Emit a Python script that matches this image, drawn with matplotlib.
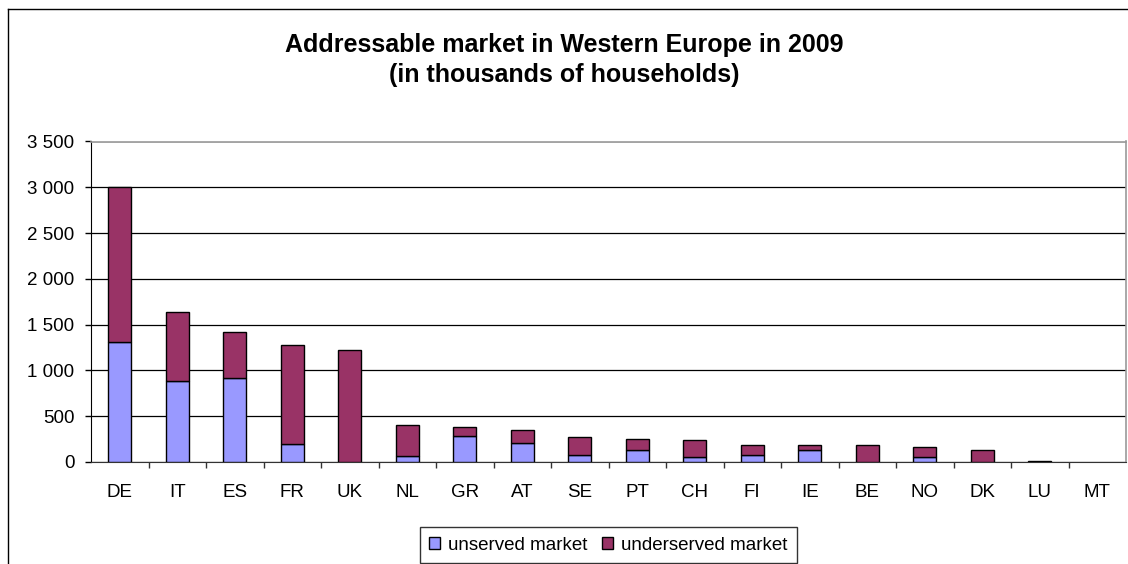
import numpy as np
import matplotlib
matplotlib.use("Agg")
import matplotlib.pyplot as plt
from matplotlib.patches import Patch
from matplotlib.lines import Line2D
from matplotlib.ticker import FuncFormatter, FixedLocator

plt.rcParams["font.family"] = ["Liberation Sans", "DejaVu Sans"]

countries = ["DE", "IT", "ES", "FR", "UK", "NL", "GR", "AT", "SE",
             "PT", "CH", "FI", "IE", "BE", "NO", "DK", "LU", "MT"]
# thousands of households
unserved = [1310, 885, 918, 200, 0, 64, 289, 203, 79,
            135, 60, 77, 135, 0, 60, 0, 0, 0]
underserved = [1690, 748, 497, 1075, 1224, 343, 94, 143, 199,
               121, 181, 111, 53, 184, 109, 135, 15, 0]

W, H = 1128, 564
fig = plt.figure(figsize=(W / 100, H / 100), dpi=100)

# outer chart frame (bottom and right run off the canvas)
fig.add_artist(Line2D([7.5 / W, 7.5 / W], [0, 1 - 9 / H], color="black", lw=1.0))
fig.add_artist(Line2D([7.5 / W, 1], [1 - 9 / H, 1 - 9 / H], color="black", lw=1.0))

left, right, top, bottom = 91, 1126, 141.5, 462
ax = fig.add_axes([left / W, 1 - bottom / H, (right - left) / W, (bottom - top) / H])

x = np.arange(len(countries))
# empty segments get no outline
lw_un = [1.0 if v > 0 else 0 for v in unserved]
lw_under = [1.0 if v > 0 else 0 for v in underserved]
ax.bar(x, unserved, width=0.4, color="#9999FF", edgecolor="black", linewidth=lw_un,
       label="unserved market", zorder=3)
ax.bar(x, underserved, width=0.4, bottom=unserved, color="#993366",
       edgecolor="black", linewidth=lw_under, label="underserved market", zorder=3)

ax.set_xlim(-0.5, len(countries) - 0.5)
ax.set_ylim(0, 3500)
ax.set_yticks(np.arange(0, 3501, 500))
ax.yaxis.set_major_formatter(FuncFormatter(lambda v, p: f"{int(v):,}".replace(",", " ")))
ax.yaxis.grid(True, color="black", lw=0.9, zorder=0)

ax.set_xticks(x)
ax.set_xticklabels(countries)
ax.xaxis.set_minor_locator(FixedLocator(np.arange(0.5, len(countries) - 1, 1.0)))
ax.tick_params(axis="x", which="major", length=0, pad=16, labelsize=13.5)
ax.tick_params(axis="x", which="minor", length=4, width=1, color="#333333")
ax.tick_params(axis="y", length=4, width=1, pad=8, labelsize=13.5)

for s in ["top", "right"]:
    ax.spines[s].set_color("#999999")
    ax.spines[s].set_linewidth(1.2)
ax.spines["left"].set_color("black")
ax.spines["bottom"].set_color("#333333")

fig.text(0.5, 1 - 45 / H, "Addressable market in Western Europe in 2009",
         ha="center", va="center", fontsize=18, fontweight="bold")
fig.text(0.5, 1 - 75 / H, "(in thousands of households)",
         ha="center", va="center", fontsize=18, fontweight="bold")

handles = [Patch(facecolor="#9999FF", edgecolor="black", label="unserved market"),
           Patch(facecolor="#993366", edgecolor="black", label="underserved market")]
leg = fig.legend(handles=handles, loc="center", bbox_to_anchor=(608 / W, 1 - 545 / H),
                 ncol=2, fontsize=13.5, frameon=True, fancybox=False,
                 handlelength=0.6, handleheight=0.6, handletextpad=0.4,
                 columnspacing=0.8, borderpad=0.5, borderaxespad=0)
leg.get_frame().set_edgecolor("black")
leg.get_frame().set_linewidth(1.0)

fig.savefig("out.png", dpi=100)
